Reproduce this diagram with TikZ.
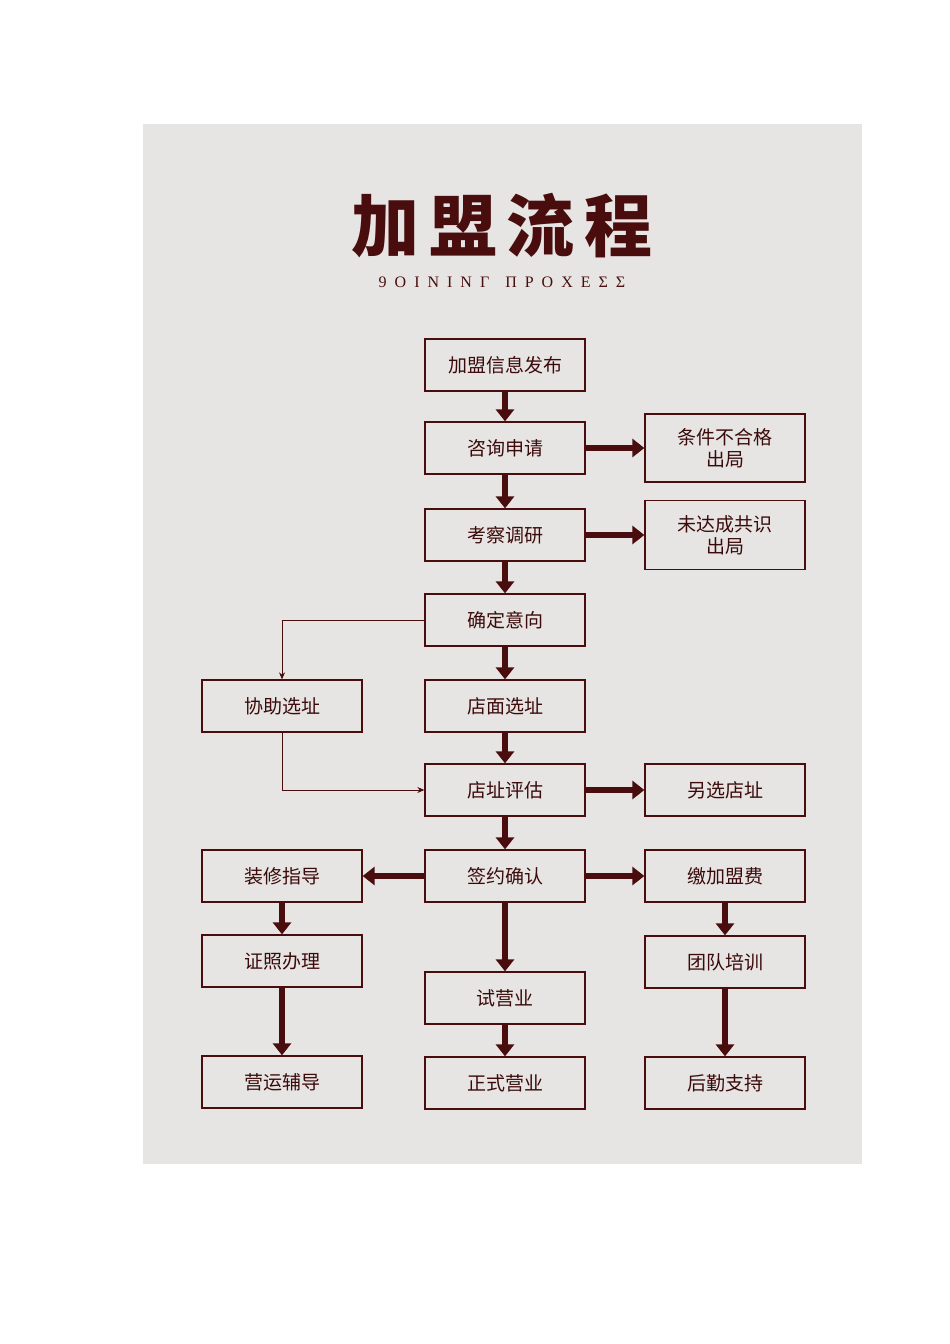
\documentclass[tikz,border=0pt]{standalone}
\usepackage{fontspec}
\newfontfamily\cjk{Noto Sans CJK SC}
\newfontfamily\cjkb{Noto Sans CJK SC Black}
\setmainfont{Liberation Serif}
\usetikzlibrary{arrows.meta}
\definecolor{bg}{HTML}{E6E5E3}
\definecolor{dred}{HTML}{4A0D0D}
\tikzset{
 bx/.style={draw=dred,line width=1.3pt,minimum width=160pt,minimum height=52pt,inner sep=0pt,font=\cjk\fontsize{19}{22}\selectfont,text=dred!80!black,align=center},
 fat/.style={draw=dred,line width=6pt,-{Triangle[width=18pt,length=12pt]}},
 thin/.style={draw=dred,line width=1pt,-{Stealth[width=6pt,length=7pt]}}
}
\begin{document}
\begin{tikzpicture}[x=1pt,y=-1pt]
\useasboundingbox (0,0) rectangle (950,1344);
\fill[bg] (143,124) rectangle (862,1164);
\node[font=\cjkb\fontsize{68}{70}\selectfont,text=dred] (title) at (502,226) {加\hspace{10pt}盟\hspace{10pt}流\hspace{10pt}程};
\node[font=\fontsize{16}{16}\selectfont,text=dred] (sub) at (502,282) {9\hspace{8pt}O\hspace{8pt}I\hspace{8pt}N\hspace{8pt}I\hspace{8pt}N\hspace{8pt}Γ\hspace{16pt}Π\hspace{8pt}Ρ\hspace{8pt}Ο\hspace{8pt}Χ\hspace{8pt}Ε\hspace{8pt}Σ\hspace{8pt}Σ};
\node[bx] (a) at (505,365) {加盟信息发布};
\node[bx] (b) at (505,448) {咨询申请};
\node[bx,minimum height=68pt] (b2) at (725,448) {条件不合格\\出局};
\node[bx] (c) at (505,535) {考察调研};
\node[bx,minimum height=69pt] (c2) at (725,535) {未达成共识\\出局};
\node[bx] (d) at (505,620) {确定意向};
\node[bx] (e) at (505,706) {店面选址};
\node[bx] (e2) at (282,706) {协助选址};
\node[bx] (f) at (505,790) {店址评估};
\node[bx] (f2) at (725,790) {另选店址};
\node[bx] (g) at (505,876) {签约确认};
\node[bx] (gl) at (282,876) {装修指导};
\node[bx] (gr) at (725,876) {缴加盟费};
\node[bx] (hl) at (282,961) {证照办理};
\node[bx] (hr) at (725,962) {团队培训};
\node[bx] (h) at (505,998) {试营业};
\node[bx] (il) at (282,1082) {营运辅导};
\node[bx] (i) at (505,1083) {正式营业};
\node[bx] (ir) at (725,1083) {后勤支持};
\draw[fat] (a) -- (b);
\draw[fat] (b) -- (c);
\draw[fat] (c) -- (d);
\draw[fat] (d) -- (e);
\draw[fat] (e) -- (f);
\draw[fat] (f) -- (g);
\draw[fat] (g) -- (h);
\draw[fat] (h) -- (i);
\draw[fat] (b) -- (b2);
\draw[fat] (c) -- (c2);
\draw[fat] (f) -- (f2);
\draw[fat] (g) -- (gl);
\draw[fat] (g) -- (gr);
\draw[fat] (gl) -- (hl);
\draw[fat] (hl) -- (il);
\draw[fat] (gr) -- (hr);
\draw[fat] (hr) -- (ir);
\draw[thin] (d.west) -| (e2.north);
\draw[thin] (e2.south) |- (f.west);
\end{tikzpicture}
\end{document}
